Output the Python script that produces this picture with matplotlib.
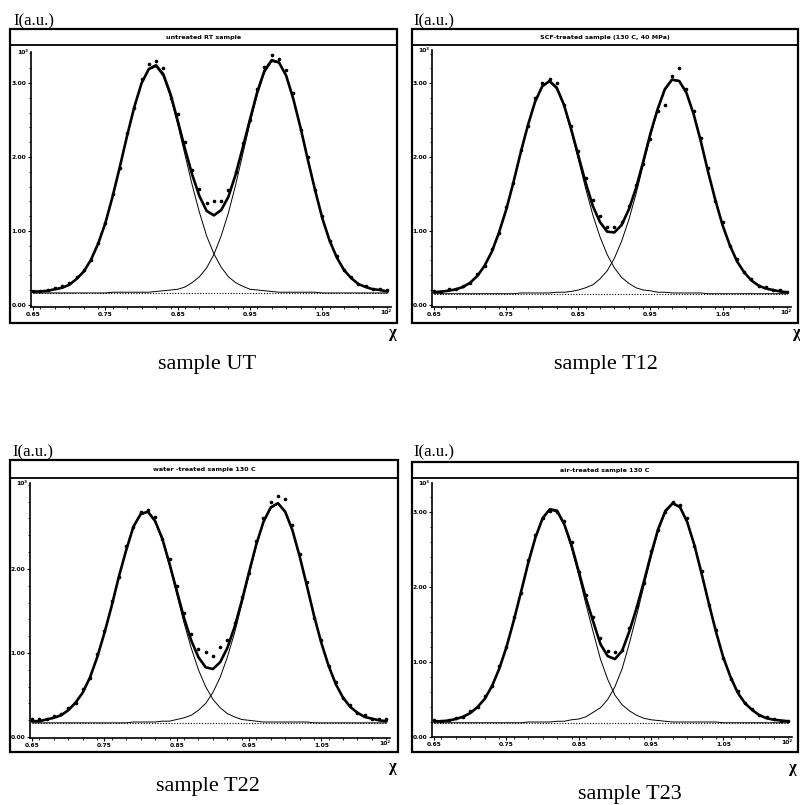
import matplotlib
matplotlib.use("Agg")
import matplotlib.pyplot as plt
from matplotlib.patches import Rectangle
from matplotlib.lines import Line2D
from matplotlib.ticker import MultipleLocator, FixedLocator, FormatStrFormatter
import numpy as np

# ---------------- data (x in units of 10^2, intensity in units of 10^3) ----------------
CHI = [0.65, 0.66, 0.67, 0.68, 0.69, 0.70, 0.71, 0.72, 0.73, 0.74,
       0.75, 0.76, 0.77, 0.78, 0.79, 0.80, 0.81, 0.82, 0.83, 0.84,
       0.85, 0.86, 0.87, 0.88, 0.89, 0.90, 0.91, 0.92, 0.93, 0.94,
       0.95, 0.96, 0.97, 0.98, 0.99, 1.00, 1.01, 1.02, 1.03, 1.04,
       1.05, 1.06, 1.07, 1.08, 1.09, 1.10, 1.11, 1.12, 1.13, 1.14]

TITLES = ["untreated RT sample", "SCF-treated sample (130 C, 40 MPa)",
          "water -treated sample 130 C", "air-treated sample 130 C"]
LABELS = ["sample UT", "sample T12", "sample T22", "sample T23"]
BASELINE = [0.16, 0.15, 0.17, 0.19]

UT_LEFT = [0.18, 0.18, 0.19, 0.21, 0.23, 0.27, 0.35, 0.45, 0.61, 0.83,
           1.11, 1.46, 1.86, 2.28, 2.67, 2.99, 3.18, 3.22, 3.09, 2.81,
           2.44, 2.03, 1.62, 1.25, 0.93, 0.69, 0.51, 0.38, 0.30, 0.25,
           0.21, 0.20, 0.19, 0.18, 0.17, 0.17, 0.17, 0.17, 0.17, 0.17,
           0.16, 0.16, 0.16, 0.16, 0.16, 0.16, 0.16, 0.16, 0.16, 0.16]
UT_RIGHT = [0.16, 0.16, 0.16, 0.16, 0.16, 0.16, 0.16, 0.16, 0.16, 0.16,
            0.16, 0.17, 0.17, 0.17, 0.17, 0.17, 0.17, 0.18, 0.19, 0.20,
            0.21, 0.24, 0.30, 0.38, 0.50, 0.68, 0.93, 1.24, 1.62, 2.04,
            2.46, 2.84, 3.14, 3.29, 3.27, 3.09, 2.77, 2.38, 1.95, 1.54,
            1.17, 0.87, 0.64, 0.47, 0.36, 0.28, 0.24, 0.21, 0.20, 0.18]
UT_DATA = [0.19, 0.18, 0.20, 0.23, 0.25, 0.29, 0.37, 0.47, 0.60, 0.84,
           1.10, 1.50, 1.85, 2.33, 2.66, 3.06, 3.26, 3.30, 3.20, 2.80,
           2.58, 2.20, 1.83, 1.56, 1.38, 1.40, 1.41, 1.55, 1.80, 2.19,
           2.50, 2.92, 3.22, 3.38, 3.33, 3.18, 2.86, 2.37, 2.00, 1.55,
           1.20, 0.86, 0.66, 0.47, 0.38, 0.28, 0.26, 0.21, 0.22, 0.20]

T12_LEFT = [0.17, 0.18, 0.19, 0.21, 0.24, 0.30, 0.39, 0.53, 0.72, 0.98,
            1.29, 1.66, 2.05, 2.42, 2.74, 2.95, 3.02, 2.92, 2.69, 2.35,
            1.97, 1.58, 1.22, 0.92, 0.68, 0.50, 0.37, 0.29, 0.23, 0.20,
            0.19, 0.17, 0.17, 0.16, 0.16, 0.16, 0.16, 0.16, 0.15, 0.15,
            0.15, 0.15, 0.15, 0.15, 0.15, 0.15, 0.15, 0.15, 0.15, 0.15]
T12_RIGHT = [0.15, 0.15, 0.15, 0.15, 0.15, 0.15, 0.15, 0.15, 0.15, 0.15,
             0.15, 0.15, 0.16, 0.16, 0.16, 0.16, 0.16, 0.17, 0.17, 0.18,
             0.20, 0.23, 0.27, 0.35, 0.46, 0.63, 0.86, 1.15, 1.50, 1.89,
             2.28, 2.63, 2.90, 3.04, 3.02, 2.86, 2.57, 2.20, 1.80, 1.42,
             1.08, 0.81, 0.59, 0.44, 0.33, 0.26, 0.22, 0.20, 0.18, 0.17]
T12_DATA = [0.18, 0.17, 0.21, 0.21, 0.26, 0.30, 0.42, 0.52, 0.75, 0.97,
            1.33, 1.65, 2.10, 2.42, 2.80, 3.00, 3.06, 3.00, 2.70, 2.42,
            2.08, 1.72, 1.42, 1.20, 1.06, 1.05, 1.12, 1.34, 1.62, 1.90,
            2.25, 2.62, 2.70, 3.10, 3.20, 2.92, 2.62, 2.26, 1.85, 1.40,
            1.12, 0.80, 0.62, 0.44, 0.35, 0.26, 0.24, 0.20, 0.20, 0.17]

T22_LEFT = [0.19, 0.19, 0.21, 0.23, 0.26, 0.32, 0.41, 0.53, 0.71, 0.95,
            1.24, 1.56, 1.91, 2.22, 2.49, 2.64, 2.67, 2.56, 2.34, 2.04,
            1.70, 1.36, 1.06, 0.80, 0.60, 0.45, 0.35, 0.28, 0.24, 0.21,
            0.20, 0.19, 0.18, 0.18, 0.18, 0.18, 0.18, 0.18, 0.18, 0.17,
            0.17, 0.17, 0.17, 0.17, 0.17, 0.17, 0.17, 0.17, 0.17, 0.17]
T22_RIGHT = [0.17, 0.17, 0.17, 0.17, 0.17, 0.17, 0.17, 0.17, 0.17, 0.17,
             0.17, 0.17, 0.17, 0.17, 0.18, 0.18, 0.18, 0.18, 0.19, 0.19,
             0.21, 0.23, 0.26, 0.32, 0.40, 0.53, 0.71, 0.95, 1.24, 1.58,
             1.93, 2.27, 2.55, 2.72, 2.77, 2.67, 2.45, 2.14, 1.79, 1.44,
             1.12, 0.85, 0.63, 0.47, 0.36, 0.29, 0.24, 0.22, 0.20, 0.19]
T22_DATA = [0.21, 0.22, 0.22, 0.25, 0.27, 0.35, 0.41, 0.57, 0.70, 0.99,
            1.26, 1.62, 1.90, 2.27, 2.50, 2.68, 2.70, 2.62, 2.35, 2.12,
            1.80, 1.48, 1.22, 1.05, 1.01, 0.96, 1.07, 1.15, 1.36, 1.66,
            1.95, 2.33, 2.60, 2.80, 2.87, 2.83, 2.52, 2.18, 1.84, 1.42,
            1.15, 0.84, 0.66, 0.47, 0.38, 0.29, 0.26, 0.22, 0.22, 0.21]

T23_LEFT = [0.21, 0.21, 0.22, 0.24, 0.27, 0.32, 0.40, 0.51, 0.68, 0.91,
            1.20, 1.55, 1.93, 2.31, 2.65, 2.91, 3.03, 3.00, 2.82, 2.52,
            2.16, 1.77, 1.40, 1.04, 0.77, 0.56, 0.43, 0.35, 0.29, 0.25,
            0.23, 0.22, 0.21, 0.20, 0.20, 0.20, 0.20, 0.20, 0.20, 0.20,
            0.19, 0.19, 0.19, 0.19, 0.19, 0.19, 0.19, 0.19, 0.19, 0.19]
T23_RIGHT = [0.19, 0.19, 0.19, 0.19, 0.19, 0.19, 0.19, 0.19, 0.19, 0.19,
             0.19, 0.19, 0.19, 0.20, 0.20, 0.20, 0.20, 0.21, 0.21, 0.23,
             0.24, 0.27, 0.33, 0.39, 0.50, 0.67, 0.91, 1.25, 1.62, 2.01,
             2.40, 2.75, 3.00, 3.11, 3.06, 2.86, 2.55, 2.17, 1.77, 1.39,
             1.06, 0.80, 0.59, 0.45, 0.36, 0.29, 0.25, 0.23, 0.22, 0.21]
T23_DATA = [0.23, 0.22, 0.23, 0.26, 0.27, 0.35, 0.40, 0.55, 0.68, 0.95,
            1.20, 1.60, 1.92, 2.36, 2.70, 2.92, 3.02, 3.00, 2.88, 2.60,
            2.20, 1.90, 1.60, 1.32, 1.15, 1.13, 1.16, 1.45, 1.75, 2.06,
            2.48, 2.76, 3.00, 3.14, 3.10, 2.92, 2.55, 2.22, 1.76, 1.43,
            1.05, 0.78, 0.62, 0.45, 0.38, 0.29, 0.27, 0.24, 0.22, 0.21]

COMP_LEFT = [UT_LEFT, T12_LEFT, T22_LEFT, T23_LEFT]
COMP_RIGHT = [UT_RIGHT, T12_RIGHT, T22_RIGHT, T23_RIGHT]
MEASURED = [UT_DATA, T12_DATA, T22_DATA, T23_DATA]

# ---------------- layout (pixels, 800 x 805) ----------------
W, H = 800, 805
LAYOUT = [
    dict(frame=(10, 29, 397, 323), bar=45, axes=(31, 52, 391, 307), ylim=(-0.03, 3.42),
         yticks=[0, 1, 2, 3], ylab=(13, 21), chi=(393, 333), lab=(207, 364)),
    dict(frame=(412, 29, 798, 323), bar=45, axes=(432, 50, 791, 307), ylim=(-0.03, 3.45),
         yticks=[0, 1, 2, 3], ylab=(413, 21), chi=(797, 333), lab=(606, 364)),
    dict(frame=(10, 460, 398, 752), bar=478, axes=(30, 483, 390, 738), ylim=(-0.01, 3.02),
         yticks=[0, 1, 2], ylab=(12, 452), chi=(393, 767), lab=(208, 786)),
    dict(frame=(412, 462, 798, 752), bar=478, axes=(432, 483, 792, 737), ylim=(0.0, 3.39),
         yticks=[0, 1, 2, 3], ylab=(413, 452), chi=(793, 768), lab=(630, 794)),
]

fig = plt.figure(figsize=(W / 100, H / 100), dpi=100)
fig.patch.set_facecolor("white")

def fx(x):
    return x / W

def fy(y):
    return 1 - y / H

SERIF = "Liberation Serif"

for k in range(4):
    L = LAYOUT[k]
    x0, y0, x1, y1 = L["frame"]
    fig.patches.append(Rectangle((fx(x0), fy(y1)), fx(x1) - fx(x0), fy(y0) - fy(y1),
                                 transform=fig.transFigure, fill=False,
                                 edgecolor="black", linewidth=1.6))
    fig.lines.append(Line2D([fx(x0), fx(x1)], [fy(L["bar"]), fy(L["bar"])],
                            transform=fig.transFigure, color="black", linewidth=1.3))
    fig.text(fx((x0 + x1) / 2), fy((y0 + L["bar"]) / 2), TITLES[k], ha="center",
             va="center", fontsize=4.6, fontweight="bold", family="DejaVu Sans")

    al, at, ar, ab = L["axes"]
    ax = fig.add_axes([fx(al), fy(ab), fx(ar) - fx(al), fy(at) - fy(ab)])
    ax.set_facecolor("none")
    base = BASELINE[k]
    left = np.array(COMP_LEFT[k])
    right = np.array(COMP_RIGHT[k])
    total = left + right - base

    ax.plot(CHI, [base] * len(CHI), color="black", lw=0.8, ls=(0, (1, 1.5)))
    ax.plot(CHI, left, color="black", lw=0.7)
    ax.plot(CHI, right, color="black", lw=0.7)
    ax.plot(CHI, total, color="black", lw=1.9, solid_joinstyle="round")
    ax.plot(CHI, MEASURED[k], ls="none", marker="o", ms=1.6, color="black")

    ax.set_xlim(0.647, 1.145)
    ax.set_ylim(*L["ylim"])
    ax.xaxis.set_major_locator(FixedLocator([0.65, 0.75, 0.85, 0.95, 1.05]))
    ax.xaxis.set_minor_locator(MultipleLocator(0.02))
    ax.yaxis.set_major_locator(FixedLocator(L["yticks"]))
    ax.yaxis.set_minor_locator(MultipleLocator(0.2))
    ax.xaxis.set_major_formatter(FormatStrFormatter("%.2f"))
    ax.yaxis.set_major_formatter(FormatStrFormatter("%.2f"))
    for s in ("top", "right"):
        ax.spines[s].set_visible(False)
    for s in ("left", "bottom"):
        ax.spines[s].set_linewidth(1.2)
    ax.tick_params(which="major", direction="out", length=2.5, width=0.8,
                   labelsize=4.3, pad=1)
    ax.tick_params(which="minor", direction="out", length=1.5, width=0.6)
    for lab in ax.get_xticklabels() + ax.get_yticklabels():
        lab.set_fontweight("bold")
    ax.text(-0.008, 1.0, "10³", transform=ax.transAxes, ha="right", va="center",
            fontsize=4.3, fontweight="bold")
    ax.text(1.0, -0.012, "10²", transform=ax.transAxes, ha="right", va="top",
            fontsize=4.3, fontweight="bold")

    fig.text(fx(L["ylab"][0]), fy(L["ylab"][1]), "I(a.u.)", ha="left", va="center",
             fontsize=12, family=SERIF)
    fig.text(fx(L["chi"][0]), fy(L["chi"][1]), "χ", ha="center", va="center",
             fontsize=12, family=SERIF, fontweight="bold")
    fig.text(fx(L["lab"][0]), fy(L["lab"][1]), LABELS[k], ha="center", va="center",
             fontsize=16, family=SERIF)

fig.savefig("out.png", dpi=100, facecolor="white")
